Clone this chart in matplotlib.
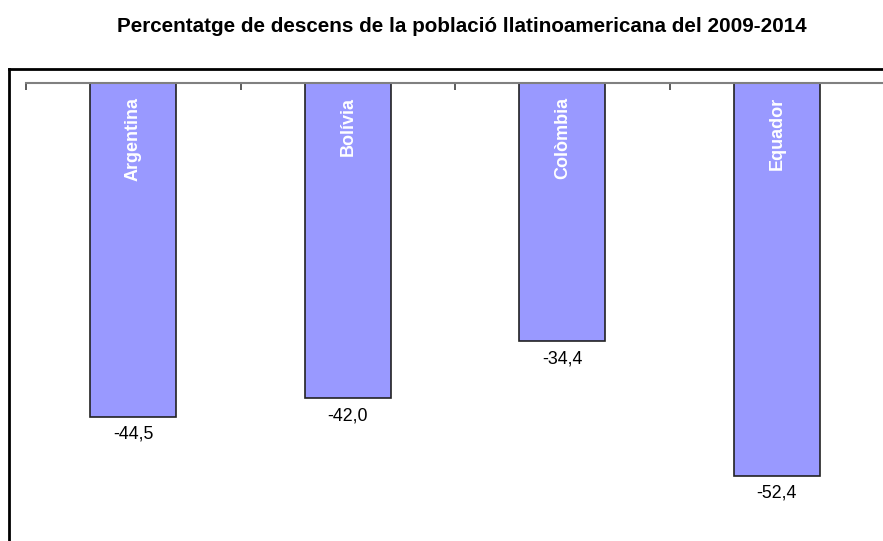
import matplotlib.pyplot as plt
from matplotlib.lines import Line2D

plt.rcParams['font.family'] = ['Liberation Sans', 'DejaVu Sans']

# Data
paisos = ['Argentina', 'Bolívia', 'Colòmbia', 'Equador']
descens = [-44.5, -42.0, -34.4, -52.4]
etiquetes = ['-44,5', '-42,0', '-34,4', '-52,4']

W, H = 883, 541
fig = plt.figure(figsize=(W / 100, H / 100), dpi=100)

# axes: zero line at y=83 px, categories from x=26 to x=884
ax = fig.add_axes([26 / W, 0, 858 / W, (H - 83) / H])
ax.bar(range(len(paisos)), descens, width=0.4, color='#9999FF',
       edgecolor='#222222', linewidth=1.2, zorder=2)
ax.set_xlim(-0.5, len(paisos) - 0.5)
ax.set_ylim(-(H - 83) / 7.5, 0)

for s in ['left', 'right', 'bottom']:
    ax.spines[s].set_visible(False)
ax.spines['top'].set_color('#808080')
ax.spines['top'].set_linewidth(1.5)
ax.xaxis.set_ticks_position('top')
ax.set_xticks([i - 0.5 for i in range(len(paisos) + 1)])
ax.set_xticklabels([])
ax.tick_params(axis='x', direction='in', length=5, width=1.2, color='#404040')
ax.set_yticks([])

for i, (p, v, e) in enumerate(zip(paisos, descens, etiquetes)):
    ax.text(i, -1.9, p, rotation=90, ha='center', va='top', color='white',
            fontsize=13, fontweight='bold')
    ax.text(i, v - 1.2, e, ha='center', va='top', fontsize=12.8, color='black')

# outer chart frame
fig.add_artist(Line2D([9 / W, 1.0], [1 - 69 / H, 1 - 69 / H], color='black', lw=2,
                      transform=fig.transFigure))
fig.add_artist(Line2D([9 / W, 9 / W], [0, 1 - 69 / H], color='black', lw=2,
                      transform=fig.transFigure))

fig.text(461.5 / W, 1 - 32 / H, 'Percentatge de descens de la població llatinoamericana del 2009-2014',
         ha='center', va='baseline', fontsize=14.9, fontweight='bold')

fig.savefig('out.png', dpi=100)
